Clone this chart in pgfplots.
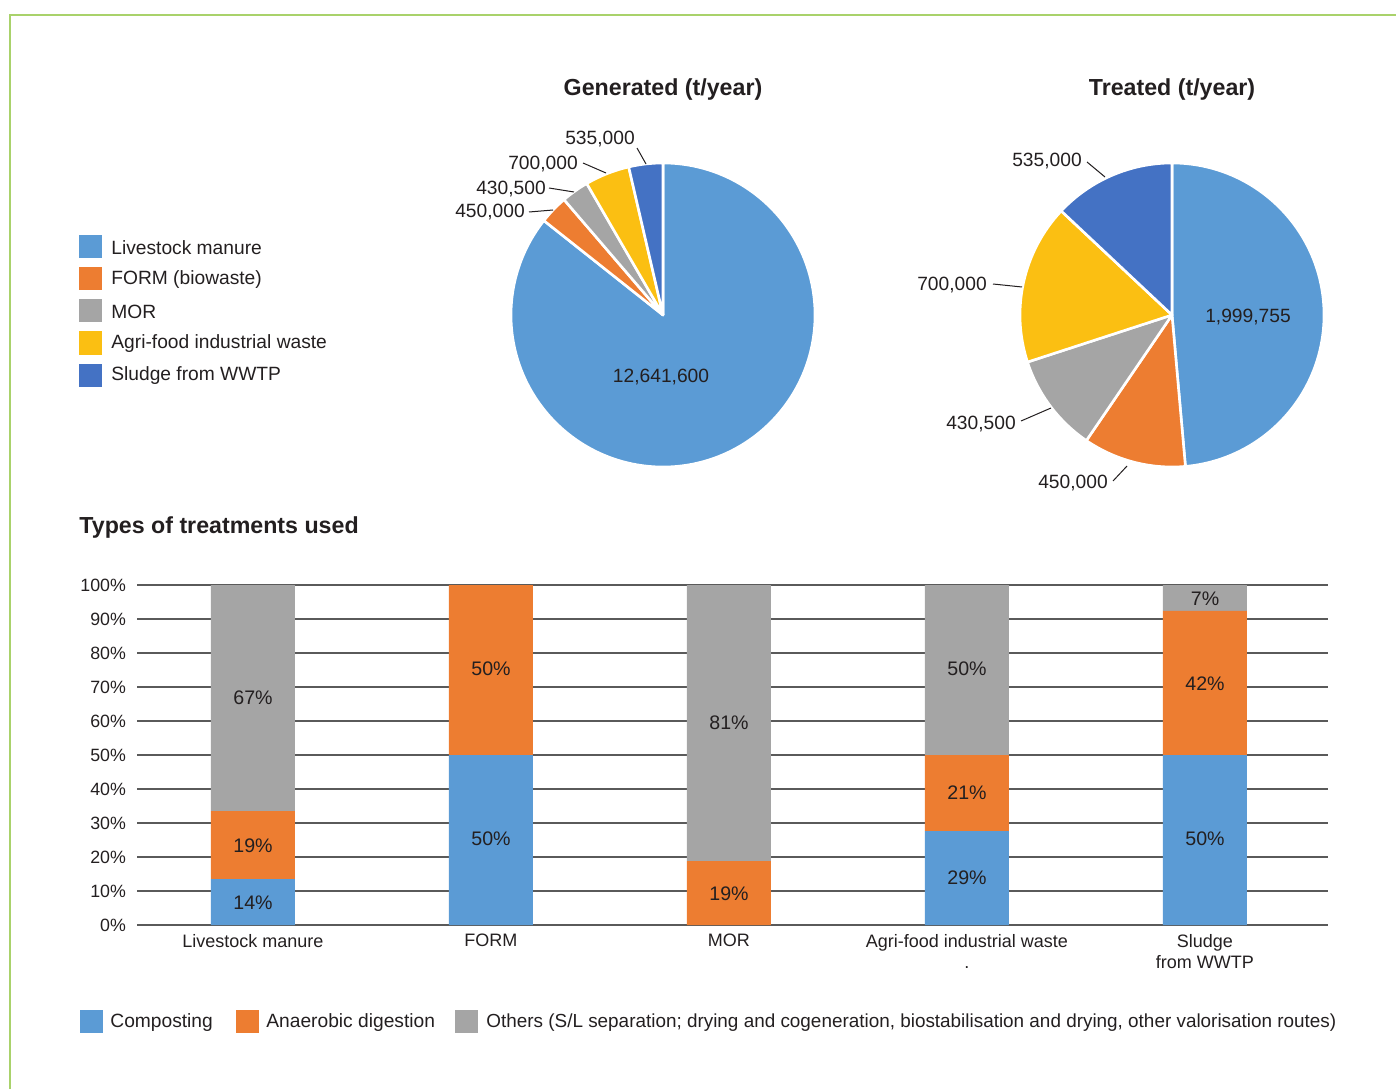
\documentclass[border=0pt]{standalone}
\usepackage{fontspec}
\setmainfont{Liberation Sans}
\usepackage{pgfplots}
\pgfplotsset{compat=1.18}

\definecolor{cLive}{HTML}{5B9BD5}
\definecolor{cForm}{HTML}{ED7D31}
\definecolor{cMor}{HTML}{A5A5A5}
\definecolor{cAgri}{HTML}{FBBF12}
\definecolor{cSlud}{HTML}{4472C4}
\definecolor{frameG}{HTML}{A9D26B}
\definecolor{gridc}{HTML}{5A5A5A}
\definecolor{txt}{HTML}{231F20}

% Generated (thousand t/year)
\def\gA{12641.6}\def\gB{450}\def\gC{430.5}\def\gD{700}\def\gE{535}
\pgfmathsetmacro\gT{\gA+\gB+\gC+\gD+\gE}
\pgfmathsetmacro\gaA{90}
\pgfmathsetmacro\gaB{\gaA-360*(\gA/\gT)}
\pgfmathsetmacro\gaC{\gaB-360*(\gB/\gT)}
\pgfmathsetmacro\gaD{\gaC-360*(\gC/\gT)}
\pgfmathsetmacro\gaE{\gaD-360*(\gD/\gT)}
\pgfmathsetmacro\gaF{-270}
% Treated (thousand t/year)
\def\tA{1999.755}\def\tB{450}\def\tC{430.5}\def\tD{700}\def\tE{535}
\pgfmathsetmacro\tT{\tA+\tB+\tC+\tD+\tE}
\pgfmathsetmacro\taA{90}
\pgfmathsetmacro\taB{\taA-360*(\tA/\tT)}
\pgfmathsetmacro\taC{\taB-360*(\tB/\tT)}
\pgfmathsetmacro\taD{\taC-360*(\tC/\tT)}
\pgfmathsetmacro\taE{\taD-360*(\tD/\tT)}
\pgfmathsetmacro\taF{-270}

\newcommand\slice[3]{%
  \fill[#3, draw=white, line width=1.3pt, line join=round]
    (axis cs:0,0) -- (axis cs:{cos(#1)},{sin(#1)})
    arc[start angle=#1, end angle=#2, radius=76pt] -- cycle;}

\pgfplotsset{pieaxis/.style={anchor=center, scale only axis, width=152pt, height=152pt,
  xmin=-1, xmax=1, ymin=-1, ymax=1, hide axis, clip=false}}
\tikzset{blab/.style={font=\fontsize{9.8}{11}\selectfont, text=txt, inner sep=0pt},
  plab/.style={font=\fontsize{9.6}{11}\selectfont, text=txt, inner sep=0pt}}
% bar label: category index, percent position, text
\newcommand\blabel[3]{\node[blab] at ({253+238*#1},{164+3.4*#2}) {#3};}

\begin{document}
\begin{tikzpicture}[x=0.5pt, y=0.5pt]
\useasboundingbox (0,0) rectangle (1396,1089);
\coordinate (pieG) at (663,774);
\coordinate (pieT) at (1172,774);
\coordinate (barSW) at (137,164);
% frame
\draw[frameG, line width=1pt] (10,0) -- (10,1074) -- (1396,1074);

% titles
\node[inner sep=0pt, text=txt, font=\fontsize{11.6}{14}\selectfont\bfseries] at (663,999) {Generated (t/year)};
\node[inner sep=0pt, text=txt, font=\fontsize{11.6}{14}\selectfont\bfseries] at (1172,999) {Treated (t/year)};
\node[inner sep=0pt, text=txt, font=\fontsize{11.6}{14}\selectfont\bfseries, anchor=west] at (79,562) {Types of treatments used};

% pie legend
\fill[cLive] (79,830.5) rectangle ++(23,23); \node[plab, anchor=west] at (111,841) {Livestock manure};
\fill[cForm] (79,798.5) rectangle ++(23,23); \node[plab, anchor=west] at (111,809) {FORM (biowaste)};
\fill[cMor]  (79,766.5) rectangle ++(23,23); \node[plab, anchor=west] at (111,777) {MOR};
\fill[cAgri] (79,734.5) rectangle ++(23,23); \node[plab, anchor=west] at (111,745) {Agri-food industrial waste};
\fill[cSlud] (79,702.5) rectangle ++(23,23); \node[plab, anchor=west] at (111,713) {Sludge from WWTP};

% Generated pie
\begin{axis}[pieaxis, at={(pieG)}]
\slice{\gaA}{\gaB}{cLive}
\slice{\gaB}{\gaC}{cForm}
\slice{\gaC}{\gaD}{cMor}
\slice{\gaD}{\gaE}{cAgri}
\slice{\gaE}{\gaF}{cSlud}
\end{axis}
\node[plab] at (661,712) {12,641,600};
\node[plab] at (600,950) {535,000};  \draw[txt, line width=0.5pt] (637,941) -- (646,925);
\node[plab] at (543,925) {700,000};  \draw[txt, line width=0.5pt] (583,926) -- (606,916);
\node[plab] at (511,900) {430,500};  \draw[txt, line width=0.5pt] (549,901) -- (574,897);
\node[plab] at (490,877) {450,000};  \draw[txt, line width=0.5pt] (529,877) -- (553,879);

% Treated pie
\begin{axis}[pieaxis, at={(pieT)}]
\slice{\taA}{\taB}{cLive}
\slice{\taB}{\taC}{cForm}
\slice{\taC}{\taD}{cMor}
\slice{\taD}{\taE}{cAgri}
\slice{\taE}{\taF}{cSlud}
\end{axis}
\node[plab] at (1248,772) {1,999,755};
\node[plab] at (1047,928) {535,000}; \draw[txt, line width=0.5pt] (1087,927) -- (1105,912);
\node[plab] at (952,804) {700,000};  \draw[txt, line width=0.5pt] (993,805) -- (1022,802);
\node[plab] at (981,665) {430,500};  \draw[txt, line width=0.5pt] (1021,668) -- (1051,681);
\node[plab] at (1073,606) {450,000}; \draw[txt, line width=0.5pt] (1113,608) -- (1127,623);

% Bar chart
\begin{axis}[at={(barSW)}, anchor=south west, scale only axis,
  width=595.5pt, height=170pt,
  ybar stacked, bar width=42pt,
  ymin=0, ymax=100, xmin=-0.487, xmax=4.517,
  xtick={0,1,2,3,4},
  xticklabels={Livestock manure, FORM, MOR, {Agri-food industrial waste\\.}, {Sludge\\from WWTP}},
  ytick={0,10,...,100},
  /pgf/number format/assume math mode=true,
  yticklabel={\pgfmathprintnumber{\tick}\%},
  ymajorgrids, grid style={gridc, line width=0.7pt},
  axis line style={draw=none}, major tick length=0pt,
  tick label style={text=txt},
  yticklabel style={font=\fontsize{8.9}{10}\selectfont, xshift=-2pt},
  xticklabel style={font=\fontsize{9}{10.5}\selectfont, align=center, yshift=-1pt},
  clip=false]
\addplot[fill=cLive, draw=none] coordinates {(0,13.5) (1,50) (2,0) (3,27.6) (4,50)};
\addplot[fill=cForm, draw=none] coordinates {(0,20) (1,50) (2,18.8) (3,22.4) (4,42.4)};
\addplot[fill=cMor, draw=none] coordinates {(0,66.5) (1,0) (2,81.2) (3,50) (4,7.6)};
\end{axis}
% bar value labels
\blabel{0}{6.5}{14\%}
\blabel{0}{23.2}{19\%}
\blabel{0}{66.8}{67\%}
\blabel{1}{25.3}{50\%}
\blabel{1}{75.3}{50\%}
\blabel{2}{9.1}{19\%}
\blabel{2}{59.4}{81\%}
\blabel{3}{13.8}{29\%}
\blabel{3}{38.8}{21\%}
\blabel{3}{75.3}{50\%}
\blabel{4}{25.3}{50\%}
\blabel{4}{70.9}{42\%}
\blabel{4}{95.9}{7\%}

% bottom legend
\fill[cLive] (80,56) rectangle ++(23,23);
\node[plab, anchor=west] at (110,66) {Composting};
\fill[cForm] (236,56) rectangle ++(23,23);
\node[plab, anchor=west] at (266,66) {Anaerobic digestion};
\fill[cMor] (455,56) rectangle ++(23,23);
\node[plab, anchor=west, font=\fontsize{9.45}{11}\selectfont] at (486,66) {Others (S/L separation; drying and cogeneration, biostabilisation and drying, other valorisation routes)};
\end{tikzpicture}
\end{document}
